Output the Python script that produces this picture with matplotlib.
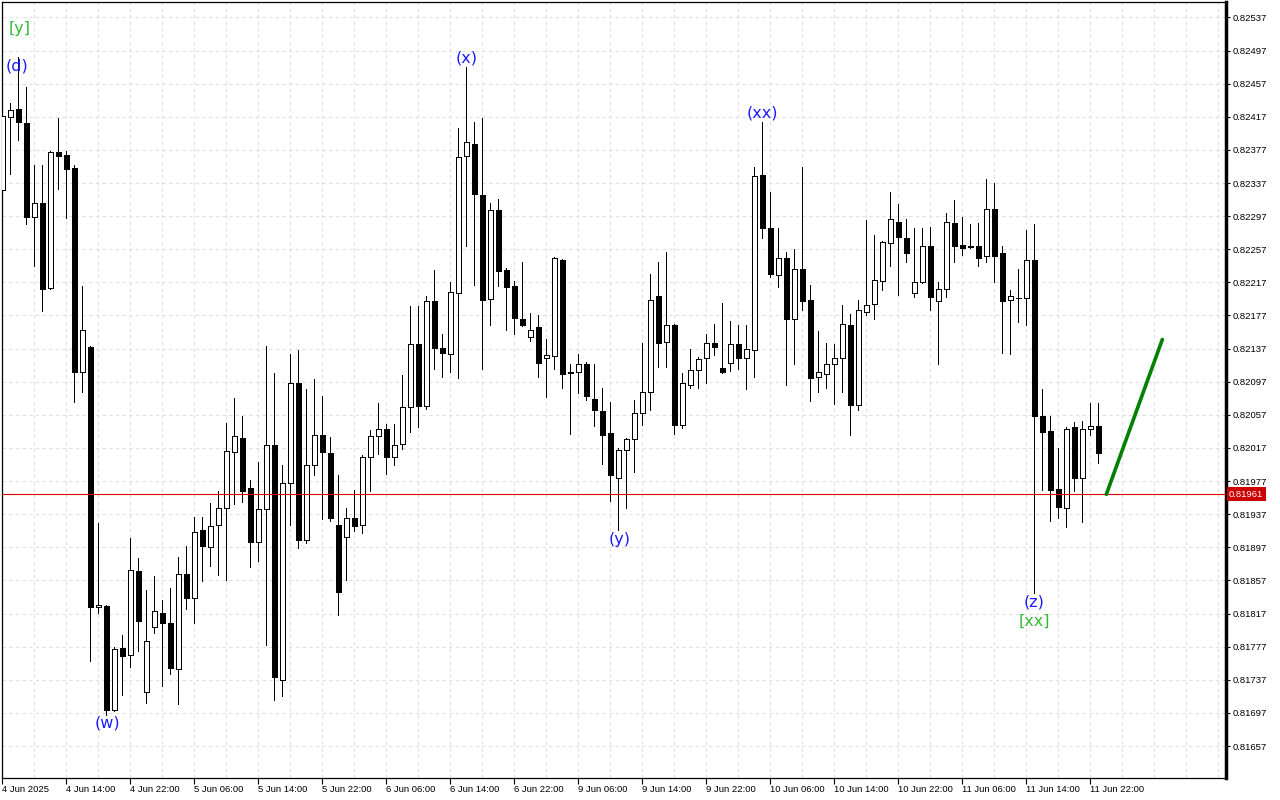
import numpy as np
import matplotlib
matplotlib.use("Agg")
import matplotlib.pyplot as plt

# hourly candles, 4 Jun 2025 06:00 -> 11 Jun 2025 23:00
opens = [0.82329, 0.82417, 0.82426, 0.82410, 0.82296, 0.82313, 0.82210, 0.82375, 0.82371, 0.82355,
         0.82109, 0.82139, 0.81825, 0.81826, 0.81700, 0.81775, 0.81767, 0.81869, 0.81722, 0.81801,
         0.81818, 0.81806, 0.81750, 0.81865, 0.81836, 0.81918, 0.81897, 0.81924, 0.81944, 0.82012,
         0.82029, 0.81969, 0.81903, 0.81943, 0.82020, 0.81737, 0.81975, 0.82095, 0.81906, 0.81996,
         0.82033, 0.82011, 0.81924, 0.81909, 0.81933, 0.81924, 0.82006, 0.82031, 0.82040, 0.82006,
         0.82022, 0.82067, 0.82142, 0.82068, 0.82195, 0.82138, 0.82131, 0.82204, 0.82370, 0.82384,
         0.82323, 0.82197, 0.82304, 0.82232, 0.82213, 0.82173, 0.82151, 0.82163, 0.82126, 0.82128,
         0.82244, 0.82109, 0.82109, 0.82118, 0.82076, 0.82062, 0.82035, 0.81981, 0.82015, 0.82028,
         0.82059, 0.82085, 0.82200, 0.82145, 0.82165, 0.82045, 0.82093, 0.82111, 0.82126, 0.82144,
         0.82113, 0.82120, 0.82143, 0.82126, 0.82135, 0.82347, 0.82283, 0.82226, 0.82246, 0.82173,
         0.82233, 0.82196, 0.82103, 0.82106, 0.82119, 0.82126, 0.82165, 0.82069, 0.82181, 0.82191,
         0.82219, 0.82265, 0.82290, 0.82271, 0.82204, 0.82218, 0.82261, 0.82194, 0.82209, 0.82289,
         0.82262, 0.82261, 0.82261, 0.82249, 0.82306, 0.82252, 0.82196, 0.82198, 0.82198, 0.82244,
         0.82056, 0.82038, 0.81967, 0.81945, 0.82042, 0.81981, 0.82040, 0.82044]
highs = [0.82423, 0.82434, 0.82489, 0.82453, 0.82359, 0.82359, 0.82376, 0.82415, 0.82376, 0.82359,
         0.82213, 0.82140, 0.81926, 0.81827, 0.81777, 0.81791, 0.81908, 0.81884, 0.81845, 0.81862,
         0.81833, 0.81848, 0.81885, 0.81899, 0.81934, 0.81934, 0.81950, 0.81965, 0.82047, 0.82077,
         0.82055, 0.81978, 0.82000, 0.82140, 0.82108, 0.81996, 0.82131, 0.82135, 0.82088, 0.82100,
         0.82080, 0.82030, 0.81984, 0.81945, 0.81966, 0.82008, 0.82039, 0.82071, 0.82046, 0.82046,
         0.82105, 0.82188, 0.82189, 0.82201, 0.82232, 0.82155, 0.82218, 0.82404, 0.82477, 0.82411,
         0.82416, 0.82313, 0.82318, 0.82234, 0.82219, 0.82242, 0.82180, 0.82178, 0.82149, 0.82248,
         0.82245, 0.82118, 0.82130, 0.82121, 0.82119, 0.82090, 0.82072, 0.82017, 0.82029, 0.82075,
         0.82144, 0.82227, 0.82241, 0.82254, 0.82167, 0.82107, 0.82136, 0.82127, 0.82155, 0.82167,
         0.82192, 0.82170, 0.82165, 0.82166, 0.82356, 0.82411, 0.82326, 0.82283, 0.82254, 0.82257,
         0.82356, 0.82214, 0.82158, 0.82144, 0.82142, 0.82190, 0.82179, 0.82196, 0.82292, 0.82274,
         0.82267, 0.82326, 0.82312, 0.82293, 0.82283, 0.82283, 0.82284, 0.82218, 0.82301, 0.82317,
         0.82296, 0.82288, 0.82289, 0.82342, 0.82337, 0.82261, 0.82208, 0.82233, 0.82280, 0.82288,
         0.82088, 0.82055, 0.82017, 0.82042, 0.82048, 0.82050, 0.82071, 0.82071]
lows = [0.82326, 0.82348, 0.82389, 0.82288, 0.82237, 0.82182, 0.82209, 0.82330, 0.82295, 0.82072,
        0.82084, 0.81760, 0.81818, 0.81695, 0.81699, 0.81719, 0.81753, 0.81772, 0.81709, 0.81794,
        0.81729, 0.81744, 0.81708, 0.81823, 0.81806, 0.81856, 0.81875, 0.81864, 0.81858, 0.81949,
        0.81952, 0.81873, 0.81881, 0.81779, 0.81713, 0.81718, 0.81924, 0.81896, 0.81902, 0.81984,
        0.81931, 0.81929, 0.81815, 0.81858, 0.81917, 0.81914, 0.81965, 0.82010, 0.81986, 0.81997,
        0.82016, 0.82036, 0.82042, 0.82064, 0.82112, 0.82103, 0.82109, 0.82101, 0.82261, 0.82214,
        0.82112, 0.82166, 0.82213, 0.82160, 0.82155, 0.82164, 0.82146, 0.82103, 0.82079, 0.82112,
        0.82089, 0.82034, 0.82083, 0.82075, 0.82044, 0.81998, 0.81953, 0.81918, 0.81944, 0.81988,
        0.82045, 0.82063, 0.82115, 0.82115, 0.82034, 0.82041, 0.82089, 0.82089, 0.82096, 0.82129,
        0.82108, 0.82110, 0.82112, 0.82088, 0.82103, 0.82270, 0.82224, 0.82212, 0.82093, 0.82118,
        0.82184, 0.82074, 0.82085, 0.82089, 0.82070, 0.82084, 0.82033, 0.82063, 0.82177, 0.82173,
        0.82208, 0.82237, 0.82202, 0.82241, 0.82199, 0.82216, 0.82184, 0.82119, 0.82199, 0.82241,
        0.82250, 0.82259, 0.82237, 0.82241, 0.82218, 0.82132, 0.82131, 0.82169, 0.82165, 0.81842,
        0.81966, 0.81929, 0.81932, 0.81922, 0.81965, 0.81928, 0.82033, 0.81999]
closes = [0.82418, 0.82425, 0.82411, 0.82296, 0.82313, 0.82209, 0.82375, 0.82370, 0.82354, 0.82109,
          0.82160, 0.81825, 0.81827, 0.81701, 0.81774, 0.81766, 0.81870, 0.81808, 0.81784, 0.81820,
          0.81806, 0.81751, 0.81865, 0.81836, 0.81916, 0.81898, 0.81923, 0.81944, 0.82013, 0.82032,
          0.81965, 0.81904, 0.81943, 0.82021, 0.81740, 0.81975, 0.82095, 0.81906, 0.81996, 0.82033,
          0.82012, 0.81932, 0.81843, 0.81933, 0.81923, 0.82006, 0.82031, 0.82040, 0.82006, 0.82021,
          0.82067, 0.82142, 0.82068, 0.82194, 0.82138, 0.82132, 0.82205, 0.82369, 0.82386, 0.82324,
          0.82196, 0.82304, 0.82231, 0.82211, 0.82174, 0.82165, 0.82160, 0.82120, 0.82129, 0.82247,
          0.82106, 0.82108, 0.82118, 0.82080, 0.82063, 0.82033, 0.81984, 0.82015, 0.82028, 0.82059,
          0.82085, 0.82196, 0.82144, 0.82165, 0.82045, 0.82096, 0.82111, 0.82125, 0.82144, 0.82139,
          0.82109, 0.82143, 0.82126, 0.82137, 0.82346, 0.82283, 0.82227, 0.82247, 0.82173, 0.82233,
          0.82195, 0.82102, 0.82109, 0.82119, 0.82126, 0.82167, 0.82069, 0.82184, 0.82190, 0.82220,
          0.82266, 0.82294, 0.82272, 0.82253, 0.82217, 0.82261, 0.82199, 0.82209, 0.82290, 0.82261,
          0.82258, 0.82260, 0.82246, 0.82306, 0.82249, 0.82195, 0.82200, 0.82198, 0.82244, 0.82056,
          0.82036, 0.81966, 0.81946, 0.82040, 0.81981, 0.82040, 0.82044, 0.82011]

time_labels = ['4 Jun 2025', '4 Jun 14:00', '4 Jun 22:00', '5 Jun 06:00', '5 Jun 14:00',
               '5 Jun 22:00', '6 Jun 06:00', '6 Jun 14:00', '6 Jun 22:00', '9 Jun 06:00',
               '9 Jun 14:00', '9 Jun 22:00', '10 Jun 06:00', '10 Jun 14:00', '10 Jun 22:00',
               '11 Jun 06:00', '11 Jun 14:00', '11 Jun 22:00']
label_every = 8

price_ticks = [0.81657, 0.81697, 0.81737, 0.81777, 0.81817, 0.81857, 0.81897, 0.81937,
               0.81977, 0.82017, 0.82057, 0.82097, 0.82137, 0.82177, 0.82217, 0.82257,
               0.82297, 0.82337, 0.82377, 0.82417, 0.82457, 0.82497, 0.82537]
last_price = 0.81961

# projected move (green line)
proj_bars = [138, 145]
proj_prices = [0.81961, 0.82148]

# wave labels: text, bar, price, colour
wave_text = ['[y]', '(d)', '(w)', '(x)', '(y)', '(xx)', '(z)', '[xx]']
wave_bar = [2.1, 1.8, 13.1, 58.0, 77.1, 95.0, 129.0, 129.0]
wave_price = [0.82524, 0.82478, 0.81685, 0.82488, 0.81906, 0.82422, 0.81831, 0.81808]
wave_color = ['#33bb33', '#1a1aff', '#1a1aff', '#1a1aff', '#1a1aff', '#1a1aff', '#1a1aff', '#33bb33']

fig = plt.figure(figsize=(12.8, 8), dpi=100)
fig.patch.set_facecolor('white')
ax = fig.add_axes([2 / 1280, 22 / 800, 1224 / 1280, 776 / 800])

n = len(opens)
x = np.arange(n)
o = np.array(opens)
c = np.array(closes)
h = np.array(highs)
l = np.array(lows)
up = c >= o

# wicks
ax.vlines(x, l, h, color='black', lw=0.7, zorder=2, antialiased=False)
# bodies
bottoms = np.minimum(o, c)
heights = np.maximum(np.abs(c - o), 1e-7)
ax.bar(x[up], heights[up], bottom=bottoms[up], width=0.6, color='white',
       edgecolor='black', linewidth=0.7, zorder=3, antialiased=False)
ax.bar(x[~up], heights[~up], bottom=bottoms[~up], width=0.6, color='black',
       edgecolor='black', linewidth=0.7, zorder=3, antialiased=False)

# current price line
ax.axhline(last_price, color='#dd0000', lw=0.8, zorder=4)
ax.text(1.0025, last_price, f'{last_price:.5f}', transform=ax.get_yaxis_transform(),
        ha='left', va='center', color='white', fontsize=6.8, family='Liberation Sans',
        bbox=dict(boxstyle='square,pad=0.25', fc='#cc0000', ec='none'), clip_on=False)

# projection
ax.plot(proj_bars, proj_prices, color='#008000', lw=2.6, solid_capstyle='round', zorder=5)

# wave labels
for t, b, p, col in zip(wave_text, wave_bar, wave_price, wave_color):
    ax.text(b, p, t, color=col, fontsize=11.5, ha='center', va='center', zorder=6)

# axes limits / ticks
ax.set_xlim(-0.05, 152.96)
ax.set_ylim(0.816184, 0.825556)
tick_pos = np.arange(0, n, label_every)[:len(time_labels)]
ax.set_xticks(tick_pos)
ax.set_xticklabels(time_labels, fontsize=6.8, family='Liberation Sans', ha='left')
ax.set_xticks(np.arange(0, 153, 4), minor=True)
ax.tick_params(axis='x', which='major', length=4, width=0.8, pad=1, direction='out')
ax.tick_params(axis='x', which='minor', length=0)

ax.yaxis.tick_right()
ax.set_yticks(price_ticks)
ax.set_yticklabels([f'{p:.5f}' for p in price_ticks], fontsize=6.8, family='Liberation Sans')
ax.tick_params(axis='y', length=3, width=0.8, pad=2, direction='out')

ax.grid(True, which='minor', axis='x', color='#e0e0e0', lw=0.8, linestyle=(0, (3, 3)), zorder=0)
ax.grid(True, which='major', axis='x', color='#e0e0e0', lw=0.8, linestyle=(0, (3, 3)), zorder=0)
ax.grid(True, which='major', axis='y', color='#e0e0e0', lw=0.8, linestyle=(0, (3, 3)), zorder=0)
ax.set_axisbelow(True)

for s in ['left', 'top', 'bottom']:
    ax.spines[s].set_linewidth(0.9)
ax.spines['right'].set_linewidth(2.5)

fig.savefig('out.png', dpi=100, facecolor='white')
